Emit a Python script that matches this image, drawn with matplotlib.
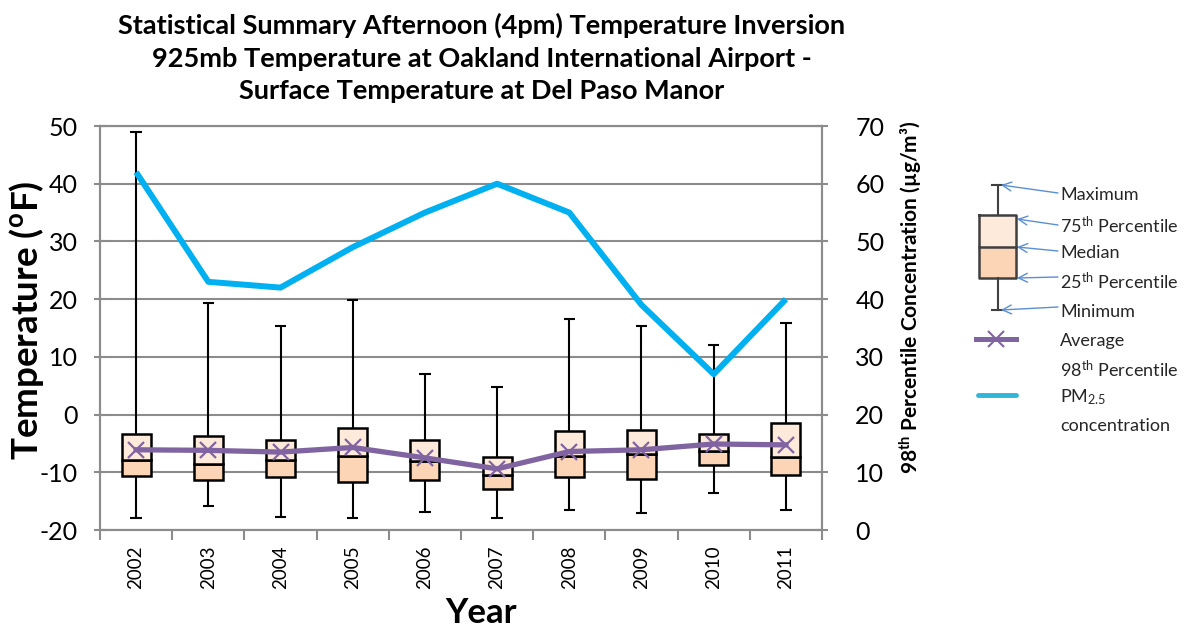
import matplotlib
matplotlib.use("Agg")
import matplotlib.pyplot as plt
import numpy as np

plt.rcParams['font.family'] = ['Lato', 'DejaVu Sans']
plt.rcParams['mathtext.fontset'] = 'custom'
plt.rcParams['mathtext.rm'] = 'Lato'
plt.rcParams['mathtext.it'] = 'Lato:italic'
plt.rcParams['mathtext.bf'] = 'Lato:bold'
plt.rcParams['axes.unicode_minus'] = False

# ---- data ----
years = ['2002', '2003', '2004', '2005', '2006', '2007', '2008', '2009', '2010', '2011']
t_max = [48.9, 19.4, 15.4, 19.9, 7.1, 4.7, 16.5, 15.4, 12.0, 15.8]
t_q3 = [-3.35, -3.75, -4.4, -2.25, -4.4, -7.3, -2.9, -2.7, -3.35, -1.4]
t_med = [-7.85, -8.55, -7.8, -7.1, -8.0, -10.5, -7.2, -6.8, -6.3, -7.3]
t_q1 = [-10.6, -11.3, -10.9, -11.7, -11.4, -12.9, -10.9, -11.2, -8.8, -10.4]
t_min = [-18.0, -15.8, -17.8, -17.85, -16.9, -17.85, -16.5, -17.1, -13.6, -16.5]
t_mean = [-6.1, -6.2, -6.5, -5.7, -7.5, -9.4, -6.4, -6.1, -5.1, -5.25]
pm25 = [62, 43, 42, 49, 55, 60, 55, 39, 27, 40]

W, H = 1185, 627
fig = plt.figure(figsize=(W / 100, H / 100), dpi=100)
ax = fig.add_axes([100 / W, 1 - 530 / H, 722 / W, 404 / H])

x = np.arange(len(years))
light = '#FDEADA'
dark = '#FBD5B5'
grey = '#8C8C8C'

ax.set_axisbelow(True)
ax.yaxis.grid(True, color=grey, lw=1.5)
lo = np.array(t_med) - np.array(t_q1)
hi = np.array(t_q3) - np.array(t_med)
ax.bar(x, lo, bottom=t_q1, width=0.4, color=dark, edgecolor='black', lw=1.8, zorder=3)
ax.bar(x, hi, bottom=t_med, width=0.4, color=light, edgecolor='black', lw=1.8, zorder=3)
ax.vlines(x, t_q3, t_max, color='black', lw=1.5, zorder=2.5)
ax.vlines(x, t_min, t_q1, color='black', lw=1.5, zorder=2.5)
ax.hlines(t_max, x - 0.08, x + 0.08, color='black', lw=1.5, zorder=2.5)
ax.hlines(t_min, x - 0.08, x + 0.08, color='black', lw=1.5, zorder=2.5)
ax.plot(x, t_mean, color='#8064A2', lw=3.8, marker='x', ms=12, mew=1.6, zorder=4)

ax.set_xlim(-0.5, len(years) - 0.5)
ax.set_ylim(-20, 50)
ax.set_yticks(np.arange(-20, 51, 10))
ax.set_xticks(x)
ax.set_xticklabels(years, rotation=90, fontsize=13.5)
ax.set_xticks(np.arange(-0.5, len(years)), minor=True)
ax.tick_params(axis='x', which='major', length=0, pad=11)
ax.tick_params(axis='x', which='minor', length=7, color=grey, width=1.5)
ax.tick_params(axis='y', labelsize=18, direction='inout', length=8, color=grey, width=1.5, pad=12)
for s in ax.spines.values():
    s.set_color(grey)
    s.set_linewidth(1.5)

ax.set_ylabel(r'Temperature ($^{\mathbf{o}}$F)', fontsize=26.5, fontweight='bold')
ax.yaxis.set_label_coords(-0.075, 0.52)
ax.set_xlabel('Year', fontsize=25, fontweight='bold', labelpad=10)
ax.xaxis.set_label_coords(0.528, -0.165)
ax.xaxis.label.set_va('top')

ax2 = ax.twinx()
ax2.plot(x, pm25, color='#00B0F0', lw=4.3, solid_capstyle='butt', zorder=5)
ax2.set_ylim(0, 70)
ax2.set_yticks(np.arange(0, 71, 10))
ax2.tick_params(axis='y', labelsize=18, direction='inout', length=8, color=grey, width=1.5, pad=20)
for s in ax2.spines.values():
    s.set_color(grey)
    s.set_linewidth(1.5)
ax2.set_ylabel(r'98$^{\mathbf{th}}$ Percentile Concentration (µg/m³)', fontsize=15,
               fontweight='bold')
ax2.yaxis.set_label_coords(1.104, 0.577)

fig.text(482 / W, 1 - 13 / H,
         'Statistical Summary Afternoon (4pm) Temperature Inversion\n'
         '925mb Temperature at Oakland International Airport -\n'
         'Surface Temperature at Del Paso Manor',
         ha='center', va='top', fontsize=19.5, fontweight='bold', linespacing=1.42)

# ---- legend (drawn in pixel space) ----
lax = fig.add_axes([0, 0, 1, 1], zorder=10)
lax.set_xlim(0, W)
lax.set_ylim(H, 0)
lax.axis('off')
bx0, bx1, bxc = 979, 1016, 997.5
lax.fill_between([bx0, bx1], 247, 278, color=dark, zorder=1)
lax.fill_between([bx0, bx1], 215, 247, color=light, zorder=1)
lax.plot([bx0, bx1, bx1, bx0, bx0], [215, 215, 278, 278, 215], color='#404040', lw=1.8, zorder=2)
lax.plot([bx0, bx1], [247, 247], color='#404040', lw=1.8, zorder=2)
lax.plot([bxc, bxc], [185, 215], color='#404040', lw=1.5)
lax.plot([bxc, bxc], [278, 310], color='#404040', lw=1.5)
lax.plot([992, 1003], [185, 185], color='#404040', lw=1.5)
lax.plot([992, 1003], [310, 310], color='#404040', lw=1.5)
lax.plot([976, 1016], [339, 339], color='#8064A2', lw=3.6)
lax.plot([996], [339], marker='x', color='#8064A2', ms=11, mew=1.5)
lax.plot([978, 1016], [395, 395], color='#31B6D8', lw=3.5, solid_capstyle='round')

arrow_c = '#5B8FD5'
arrows = [((1001, 185), (1058, 193)), ((1017, 219), (1058, 225)), ((1017, 247), (1058, 251)),
          ((1017, 278), (1058, 277)), ((1001, 310), (1058, 307))]
for head, tail in arrows:
    lax.annotate('', xy=head, xytext=tail, xycoords='data', textcoords='data',
                 arrowprops=dict(arrowstyle='->', color=arrow_c, lw=1.0, mutation_scale=16,
                                 shrinkA=0, shrinkB=0))

labels = [(195, 'Maximum'), (225, r'75$^{\mathrm{th}}$ Percentile'), (253, 'Median'),
          (282, r'25$^{\mathrm{th}}$ Percentile'), (312, 'Minimum'), (341, 'Average'),
          (369, r'98$^{\mathrm{th}}$ Percentile'), (397, r'PM$_{\mathrm{2.5}}$'), (426, 'concentration')]
for yy, t in labels:
    lax.text(1060, yy, t, fontsize=13, va='center', ha='left', color='#262626')

fig.savefig('out.png', dpi=100)
